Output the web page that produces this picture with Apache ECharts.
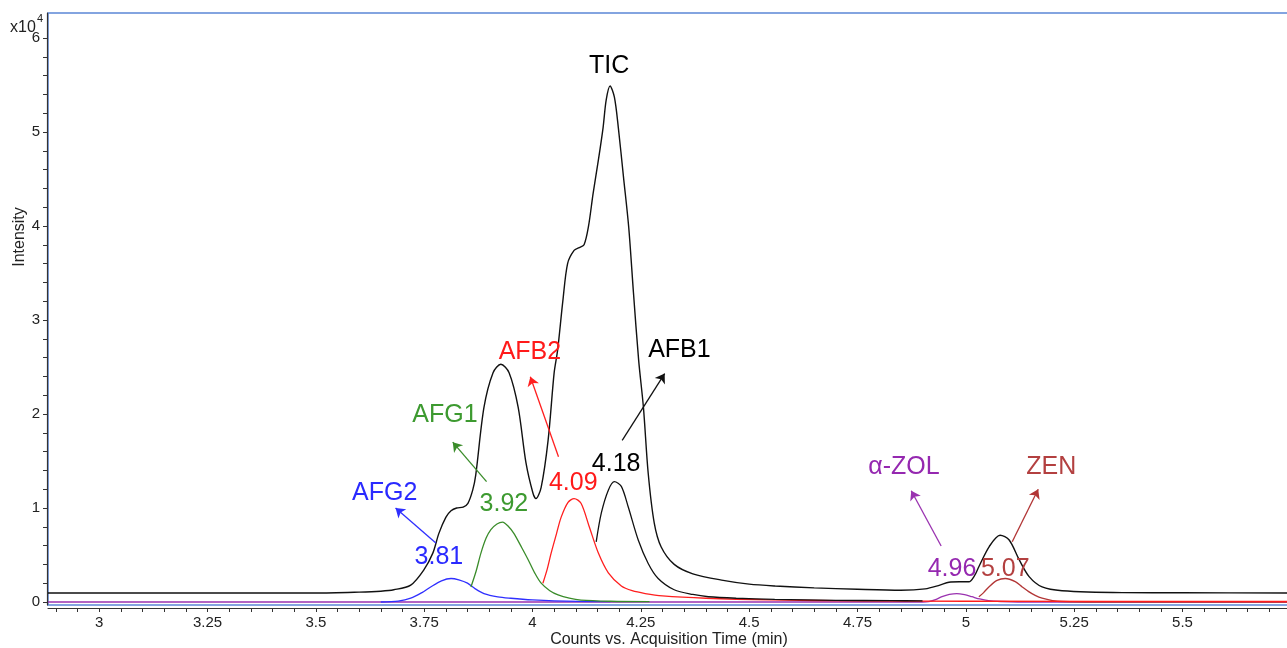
<!DOCTYPE html>
<html>
<head>
<meta charset="utf-8">
<script src="https://cdn.jsdelivr.net/npm/echarts@6/dist/echarts.min.js"></script>
<style>
html,body{margin:0;padding:0;background:#fff;}
#c{width:1287px;height:648px;}
</style>
</head>
<body>
<div id="c"></div>
<script>
// ---- data (time in min, intensity in x10^4 counts) ----
const ticData = [[2.882,0.095],[3.50,0.095],[3.60,0.105],[3.65,0.115],[3.68,0.13],[3.719,0.18],[3.749,0.34],[3.77,0.52],[3.784,0.73],[3.80,0.90],[3.812,0.97],[3.825,1.0],[3.84,1.01],[3.851,1.05],[3.862,1.19],[3.869,1.35],[3.888,2.07],[3.909,2.44],[3.927,2.53],[3.946,2.44],[3.967,2.07],[3.985,1.48],[4.001,1.16],[4.008,1.10],[4.020,1.22],[4.036,1.72],[4.050,2.44],[4.058,2.68],[4.07,3.2],[4.081,3.6],[4.096,3.74],[4.108,3.77],[4.119,3.80],[4.129,3.99],[4.140,4.35],[4.152,4.70],[4.163,5.05],[4.170,5.34],[4.179,5.49],[4.189,5.37],[4.198,5.05],[4.210,4.52],[4.222,3.99],[4.233,3.29],[4.245,2.57],[4.256,2.07],[4.267,1.37],[4.281,0.84],[4.297,0.585],[4.327,0.40],[4.37,0.30],[4.44,0.23],[4.50,0.19],[4.56,0.17],[4.65,0.15],[4.75,0.135],[4.85,0.125],[4.906,0.14],[4.94,0.18],[4.961,0.21],[4.985,0.215],[5.007,0.215],[5.02,0.28],[5.030,0.375],[5.054,0.59],[5.079,0.71],[5.100,0.66],[5.123,0.45],[5.146,0.27],[5.176,0.16],[5.222,0.12],[5.361,0.10],[5.50,0.098],[5.748,0.095]];
const afg2Data = [[3.65,0],[3.69,0.01],[3.719,0.04],[3.745,0.10],[3.765,0.16],[3.79,0.225],[3.812,0.25],[3.83,0.235],[3.85,0.20],[3.868,0.14],[3.888,0.09],[3.92,0.055],[3.95,0.04],[4.0,0.022],[4.05,0.012],[4.18,0.003]];
const afg1Data = [[3.858,0.16],[3.87,0.33],[3.881,0.52],[3.893,0.68],[3.904,0.77],[3.918,0.83],[3.931,0.85],[3.945,0.80],[3.957,0.73],[3.975,0.58],[3.990,0.45],[4.005,0.31],[4.020,0.20],[4.04,0.12],[4.059,0.075],[4.085,0.04],[4.112,0.02],[4.18,0.008],[4.27,0.003]];
const afb2Data = [[4.024,0.20],[4.034,0.35],[4.043,0.52],[4.055,0.72],[4.066,0.90],[4.082,1.06],[4.096,1.10],[4.112,1.05],[4.131,0.80],[4.152,0.52],[4.175,0.31],[4.205,0.17],[4.23,0.12],[4.26,0.09],[4.30,0.065],[4.40,0.04],[4.55,0.022],[4.75,0.012],[5.0,0.008],[5.748,0.005]];
const afb1Data = [[4.147,0.64],[4.159,0.95],[4.175,1.19],[4.189,1.28],[4.205,1.23],[4.221,1.01],[4.244,0.66],[4.267,0.41],[4.29,0.25],[4.327,0.13],[4.37,0.08],[4.406,0.056],[4.47,0.04],[4.559,0.028],[4.70,0.018],[4.83,0.014],[4.90,0.012]];
const zolData = [[2.882,0],[4.90,0],[4.914,0.003],[4.93,0.025],[4.945,0.056],[4.962,0.08],[4.979,0.09],[4.997,0.078],[5.014,0.056],[5.032,0.032],[5.052,0.015],[5.08,0.005],[5.12,0],[5.748,0]];
const zenData = [[5.030,0.056],[5.041,0.10],[5.053,0.16],[5.072,0.23],[5.091,0.25],[5.114,0.216],[5.13,0.16],[5.145,0.11],[5.16,0.07],[5.176,0.04],[5.20,0.015],[5.222,0.005],[5.30,0],[5.748,0]];

const xTickLabels = [3, 3.25, 3.5, 3.75, 4, 4.25, 4.5, 4.75, 5, 5.25, 5.5];
const yTickLabels = [0, 1, 2, 3, 4, 5, 6];

// annotation texts: [text, time, intensity, colorKey]
const labelTexts = [
  ['TIC', 4.177, 5.70, 'k'],
  ['AFB1', 4.339, 2.68, 'k'],
  ['AFB2', 3.994, 2.66, 'r'],
  ['AFG1', 3.798, 1.99, 'g'],
  ['AFG2', 3.659, 1.16, 'b'],
  ['α-ZOL', 4.857, 1.436, 'p'],
  ['ZEN', 5.197, 1.436, 'z'],
  ['3.81', 3.784, 0.479, 'b'],
  ['3.92', 3.934, 1.04, 'g'],
  ['4.09', 4.094, 1.266, 'r'],
  ['4.18', 4.193, 1.468, 'k'],
  ['4.96', 4.968, 0.351, 'p'],
  ['5.07', 5.091, 0.351, 'z']
];
// arrows: [fromTime, fromInt, toTime, toInt, colorKey]
const arrows = [
  [3.777, 0.628, 3.684, 1.0, 'b'],
  [3.894, 1.28, 3.816, 1.70, 'g'],
  [4.060, 1.546, 3.995, 2.397, 'r'],
  [4.207, 1.72, 4.305, 2.43, 'k'],
  [4.943, 0.596, 4.874, 1.184, 'p'],
  [5.107, 0.641, 5.167, 1.199, 'z']
];

const textColors = {k:'#000000', r:'#ff1a1a', g:'#3d9a30', b:'#2a2aff', p:'#9528b0', z:'#b34040'};
const lineColors = {k:'#111111', r:'#ff1f1f', g:'#3a8c2a', b:'#2f2fff', p:'#9a32b0', z:'#b23535'};

const xMinor = [];
for (let i = 0; i <= 56; i++) xMinor.push(+(2.9 + i * 0.05).toFixed(2));
const yMinor = [];
for (let i = 0; i <= 30; i++) yMinor.push(+(i * 0.2).toFixed(1));

const FONT = 'Liberation Sans, Arial, sans-serif';

function lineSeries(name, data, color, width) {
  return {
    name, type: 'line', data, showSymbol: false, symbol: 'none',
    smooth: 0.3, silent: true,
    lineStyle: {color, width: width || 1.3},
    emphasis: {disabled: true},
    animation: false, z: 3
  };
}

const chart = echarts.init(document.getElementById('c'), null, {renderer: 'canvas'});
chart.setOption({
  animation: false,
  backgroundColor: '#ffffff',
  grid: {left: 48, top: 13, right: -3, bottom: 43, show: true, borderColor: '#5b87d6', borderWidth: 1.5,
         backgroundColor: 'transparent', containLabel: false, outerBoundsMode: 'none'},
  xAxis: {
    type: 'value', min: 2.882, max: 5.748, offset: 3,
    axisLine: {show: true, onZero: false, lineStyle: {color: '#333', width: 1.2}},
    axisTick: {show: true, customValues: xMinor, length: 4, lineStyle: {color: '#333', width: 1}},
    axisLabel: {customValues: xTickLabels, fontSize: 15, color: '#222', fontFamily: FONT, margin: 7, showMinLabel: true, showMaxLabel: true},
    splitLine: {show: false},
    name: 'Counts vs. Acquisition Time (min)', nameLocation: 'middle', nameGap: 32, nameMoveOverlap: false,
    nameTextStyle: {fontSize: 16, color: '#222', fontFamily: FONT, verticalAlign: 'middle'}
  },
  yAxis: {
    type: 'value', min: -0.032, max: 6.266, offset: 1,
    axisLine: {show: true, onZero: false, lineStyle: {color: '#333', width: 1.2}},
    axisTick: {show: true, customValues: yMinor, length: 4, lineStyle: {color: '#333', width: 1}},
    axisLabel: {customValues: yTickLabels, fontSize: 15, color: '#222', fontFamily: FONT, margin: 7},
    splitLine: {show: false}
  },
  graphic: [
    {type: 'text', x: 20, y: 237, rotation: Math.PI / 2,
     style: {text: 'Intensity', font: '16px ' + FONT, fill: '#222', textAlign: 'center', textVerticalAlign: 'middle'}},
    {type: 'text', x: 10, y: 28,
     style: {text: 'x10', font: '16px ' + FONT, fill: '#222', textAlign: 'left', textVerticalAlign: 'middle'}},
    {type: 'text', x: 37, y: 19,
     style: {text: '4', font: '11px ' + FONT, fill: '#222', textAlign: 'left', textVerticalAlign: 'middle'}}
  ],
  series: [
    lineSeries('α-ZOL', zolData, lineColors.p, 1.3),
    lineSeries('ZEN', zenData, lineColors.z, 1.3),
    lineSeries('AFG2', afg2Data, lineColors.b, 1.3),
    lineSeries('AFG1', afg1Data, lineColors.g, 1.3),
    lineSeries('AFB2', afb2Data, lineColors.r, 1.3),
    lineSeries('AFB1', afb1Data, lineColors.k, 1.3),
    lineSeries('TIC', ticData, lineColors.k, 1.4),
    {
      name: 'annotations', type: 'scatter', symbolSize: 0, silent: true, z: 5,
      itemStyle: {opacity: 1},
      data: labelTexts.map(a => ({
        value: [a[1], a[2]],
        itemStyle: {opacity: 1},
        label: {show: true, position: 'inside', formatter: a[0], color: textColors[a[3]], opacity: 1,
                fontSize: 25, fontFamily: FONT}
      })),
      markLine: {
        silent: true, animation: false,
        symbol: ['none', 'arrow'], symbolSize: 9,
        label: {show: false},
        emphasis: {disabled: true},
        data: arrows.map(a => [
          {coord: [a[0], a[1]], lineStyle: {color: lineColors[a[4]], width: 1.3, type: 'solid', opacity: 1}},
          {coord: [a[2], a[3]]}
        ])
      }
    }
  ]
});
</script>
</body>
</html>
